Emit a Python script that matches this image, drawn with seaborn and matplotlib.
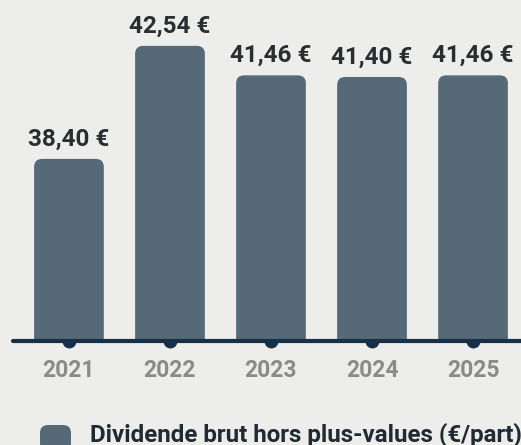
import matplotlib
matplotlib.use("Agg")
import matplotlib.pyplot as plt
import seaborn as sns
from matplotlib.patches import FancyBboxPatch

# data
years = ["2021", "2022", "2023", "2024", "2025"]
dividends = [38.40, 42.54, 41.46, 41.40, 41.46]
legend_label = "Dividende brut hors plus-values (€/part)"

bg = "#EDEDEB"
bar_color = "#566977"
navy = "#17304A"

sns.set_theme(style="white")
plt.rcParams["font.family"] = ["Roboto", "DejaVu Sans"]

fig = plt.figure(figsize=(5.21, 4.45), dpi=100, facecolor=bg)
ax = fig.add_axes([13 / 521, (445 - 341) / 445, 1 - 13 / 521, 341 / 445])
ax.set_facecolor(bg)

sns.barplot(x=years, y=dividends, color=bar_color, width=0.69, ax=ax, saturation=1)

y0, y1 = 31.73, 44.22
ax.set_ylim(y0, y1)
ax.set_xlim(-0.554, 4.475)

# rounded bars in place of the plain ones
px_x = 101.0
px_y = 27.3
r = 8 / px_x
for p in list(ax.patches):
    x, w, h = p.get_x(), p.get_width(), p.get_height()
    p.remove()
    fb = FancyBboxPatch((x, y0 - 1), w, h - (y0 - 1),
                        boxstyle=f"round,pad=0,rounding_size={r}",
                        mutation_aspect=px_x / px_y,
                        facecolor=bar_color, edgecolor="none", zorder=2)
    ax.add_patch(fb)

for i, v in enumerate(dividends):
    txt = f"{v:.2f}".replace(".", ",") + " €"
    ax.annotate(txt, (i, v), xytext=(0, 9.5), textcoords="offset points",
                ha="center", va="baseline", fontsize=17.5, fontweight="bold",
                color="#2A2E31")

# baseline with dots (dots sit behind the bars)
ax.axhline(y0, color=navy, lw=3, clip_on=False, zorder=5)
ax.plot(range(len(years)), [y0] * len(years), "o", ms=9, color=navy,
        clip_on=False, zorder=1)

sns.despine(ax=ax, left=True, bottom=True)
ax.set_yticks([])
ax.set_xlabel("")
ax.set_ylabel("")
ax.tick_params(axis="x", length=0, pad=13, labelsize=16.5, labelcolor="#8A8A8A")
for t in ax.get_xticklabels():
    t.set_fontweight("bold")

# legend (bottom, partly cut off as in the original)
lg = FancyBboxPatch((40 / 521, -6 / 445), 31 / 521, 26 / 445,
                    boxstyle=f"round,pad=0,rounding_size={8 / 521}",
                    mutation_aspect=521 / 445,
                    transform=fig.transFigure, facecolor=bar_color,
                    edgecolor="none")
fig.patches.append(lg)
fig.text(90 / 521, 3 / 445, legend_label, ha="left", va="baseline",
         fontsize=17.4, fontweight="bold", color="#1F2A33")

fig.savefig("out.png", dpi=100, facecolor=bg)
